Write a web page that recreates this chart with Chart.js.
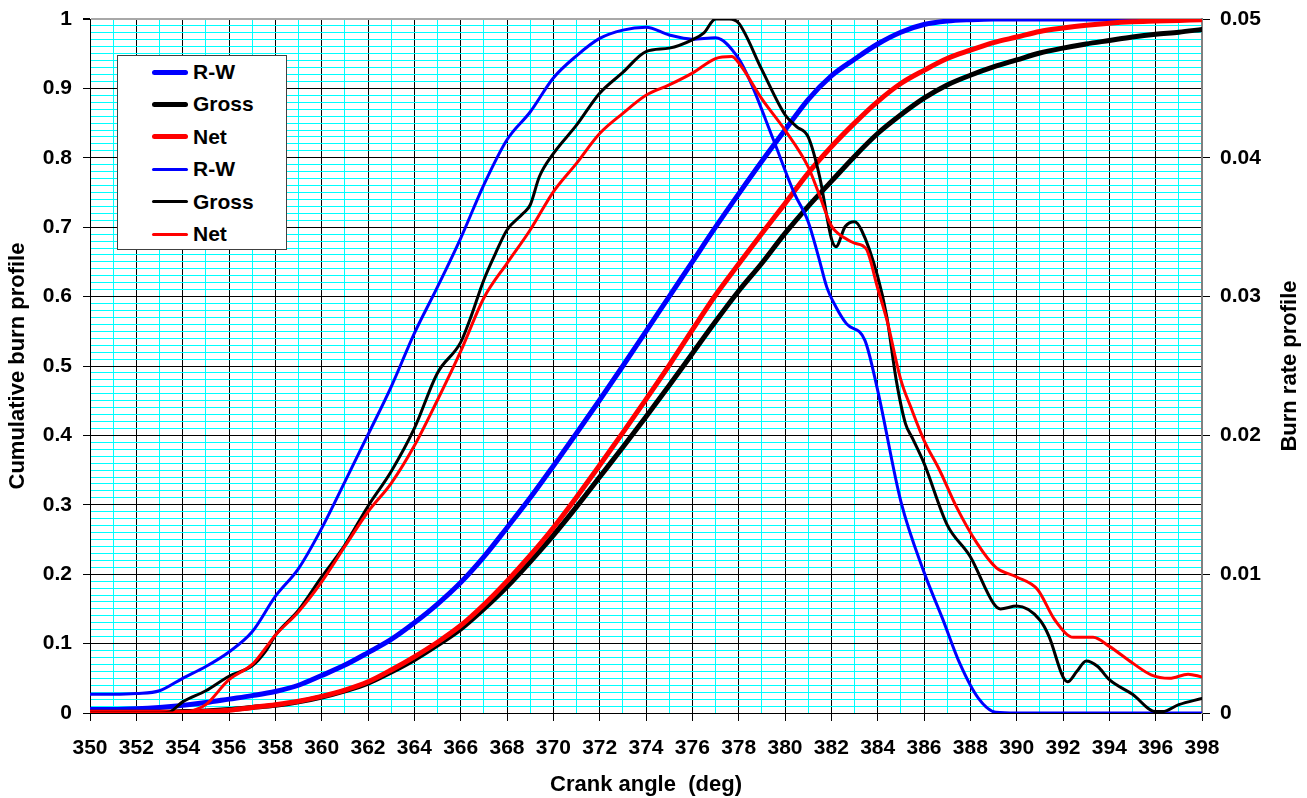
<!DOCTYPE html>
<html>
<head>
<meta charset="utf-8">
<script src="https://cdn.jsdelivr.net/npm/chart.js@4.4.1/dist/chart.umd.min.js"></script>
<style>
  html, body { margin: 0; padding: 0; background: #ffffff; }
  #wrap { position: relative; width: 1307px; height: 798px; }
  #legend {
    position: absolute; left: 117px; top: 55px; width: 170px; height: 195px;
    background: #ffffff; border: 1px solid #404040; box-sizing: border-box;
    font: bold 21px 'Liberation Sans', Arial, sans-serif; color: #000;
  }
  .item { position: absolute; left: 34px; height: 32px; display: flex; align-items: center; white-space: nowrap; }
  .swatch { width: 36px; border-radius: 3px; margin-right: 5px; }
</style>
</head>
<body>
<div id="wrap">
  <canvas id="c" width="1307" height="798"></canvas>
  <div id="legend"></div>
</div>
<script>
// ---------------- DATA ----------------
const xTitle = 'Crank angle  (deg)';
const yLeftTitle = 'Cumulative burn profile';
const yRightTitle = 'Burn rate profile';
const seriesNames = ['R-W', 'Gross', 'Net'];

// cumulative burn profiles (left axis), one value per degree 350..398
const cumAngles = [350,351,352,353,354,355,356,357,358,359,360,361,362,363,364,365,366,367,368,369,370,371,372,373,374,375,376,377,378,379,380,381,382,383,384,385,386,387,388,389,390,391,392,393,394,395,396,397,398];
const rwCum = [0.005,0.005,0.006,0.008,0.011,0.015,0.020,0.025,0.031,0.040,0.054,0.069,0.087,0.106,0.130,0.157,0.188,0.225,0.267,0.310,0.356,0.403,0.451,0.500,0.550,0.600,0.650,0.700,0.748,0.795,0.840,0.884,0.918,0.942,0.964,0.981,0.992,0.997,0.999,1,1,1,1,1,1,1,1,1,1];
const grossCum = [0.001,0.001,0.001,0.001,0.002,0.003,0.005,0.008,0.011,0.016,0.023,0.032,0.043,0.059,0.077,0.098,0.121,0.150,0.182,0.218,0.256,0.297,0.340,0.383,0.427,0.472,0.518,0.564,0.608,0.648,0.691,0.730,0.766,0.802,0.835,0.862,0.886,0.905,0.919,0.931,0.941,0.951,0.958,0.964,0.969,0.974,0.978,0.981,0.985];
const netCum = [0.001,0.001,0.001,0.001,0.001,0.002,0.004,0.008,0.012,0.017,0.024,0.033,0.045,0.062,0.081,0.102,0.126,0.156,0.190,0.227,0.267,0.311,0.357,0.404,0.452,0.501,0.552,0.602,0.647,0.691,0.734,0.778,0.816,0.850,0.881,0.907,0.926,0.943,0.955,0.966,0.974,0.982,0.987,0.991,0.994,0.996,0.997,0.998,0.999];

// burn rate profiles (right axis)
const rwRateAngles = [350,351,352,353,354,355,356,357,358,359,360,361,362,363,364,365,366,367,368,369,370,371,372,373,374,375,376,377,378,378.5,379.5,380.4,381,381.45,381.8,382.2,382.65,383.45,384,385,386,386.8,387.55,388.35,389.1,390,394,398];
const rwRate = [0.00135,0.00135,0.0014,0.0016,0.0025,0.00335,0.0044,0.00585,0.0084,0.0104,0.0133,0.01665,0.02005,0.0235,0.02735,0.0307,0.0342,0.03805,0.0413,0.0433,0.04575,0.04735,0.0486,0.0492,0.0494,0.04885,0.04855,0.04865,0.04715,0.0455,0.0413,0.03745,0.0354,0.03285,0.0307,0.02925,0.02805,0.02685,0.02325,0.01525,0.01015,0.0068,0.00355,0.00105,0.00005,0,0,0];

const grossRateAngles = [350,352,353,353.4,354,355,356,357,357.6,358,359,360,361,362,363,364,365,366,366.4,367,367.5,368,368.7,369,369.4,370,371,372,373,374,375,376,376.5,377,377.6,378,379,380,380.5,381,381.5,382,382.2,382.6,383,383.3,384,384.4,384.8,385.2,385.5,386,387,388,389,389.3,390,391,391.4,392,392.2,392.6,393,393.5,394,395,396,396.3,397,398];
const grossRate = [0,0,0,0.00005,0.0008,0.0016,0.00265,0.0034,0.0045,0.0056,0.0074,0.0098,0.0121,0.0149,0.0174,0.0205,0.0245,0.0267,0.02835,0.0312,0.0331,0.0348,0.036,0.0366,0.03865,0.0403,0.04235,0.04465,0.04615,0.04765,0.0479,0.0485,0.049,0.05,0.05,0.0497,0.04635,0.0431,0.04225,0.0415,0.0386,0.0342,0.0336,0.03505,0.0354,0.0348,0.03145,0.0285,0.024,0.02085,0.0198,0.018,0.01355,0.01125,0.0079,0.0075,0.0077,0.0067,0.0055,0.0026,0.00225,0.003,0.00375,0.00335,0.0024,0.00135,0.0001,0.0001,0.0006,0.00105];

const netRateAngles = [350,354,354.5,355,356,357,357.5,358,359,360,361,362,363,364,365,366,367,368,369,370,371,372,373,374,375,376,377,377.7,378,379,380,381,381.5,382,382.6,383,383.5,384,384.4,385,385.45,386,386.7,387.4,388.3,389.1,390,390.9,391.65,392.45,393.3,394,395,395.8,396.6,397.4,398];
const netRate = [0,0,0.0002,0.0006,0.0024,0.0035,0.0045,0.0056,0.0073,0.00945,0.012,0.0145,0.01655,0.01925,0.02255,0.02605,0.0299,0.0324,0.0348,0.03755,0.0396,0.04175,0.0432,0.0445,0.04525,0.0461,0.04715,0.0473,0.04685,0.04425,0.042,0.03935,0.03725,0.0351,0.0342,0.03385,0.03345,0.0306,0.0283,0.024,0.02195,0.01965,0.0174,0.01485,0.0122,0.0105,0.0098,0.0089,0.0067,0.00545,0.00545,0.0048,0.0036,0.00275,0.0025,0.0028,0.0026];

// axes
const xMin = 350, xMax = 398, xStep = 1;
const yLeftMin = 0, yLeftMax = 1, yLeftStep = 0.01;
const yRightMin = 0, yRightMax = 0.05, yRightStep = 0.01;

// ---------------- CHART ----------------
const FONT = "'Liberation Sans', Arial, Helvetica, sans-serif";
Chart.defaults.font.family = FONT;
Chart.defaults.color = '#000000';

const BLUE = '#0000FF', BLACK = '#000000', RED = '#FF0000', CYAN = '#00FFFF';
const toXY = (xs, ys) => xs.map((x, i) => ({ x: x, y: ys[i] }));
const isMajor = (v, n) => Math.abs(Math.round(v * n) - v * n) < 1e-6;
const noEdgePad = s => { s.paddingTop = 0; s.paddingBottom = 0; s.paddingLeft = 0; s.paddingRight = 0; };

const datasets = [
  { label: seriesNames[0], data: toXY(cumAngles, rwCum), borderColor: BLUE, borderWidth: 5, yAxisID: 'yL', order: 6 },
  { label: seriesNames[1], data: toXY(cumAngles, grossCum), borderColor: BLACK, borderWidth: 5, yAxisID: 'yL', order: 5 },
  { label: seriesNames[2], data: toXY(cumAngles, netCum), borderColor: RED, borderWidth: 5, yAxisID: 'yL', order: 4 },
  { label: seriesNames[0], data: toXY(rwRateAngles, rwRate), borderColor: BLUE, borderWidth: 3, yAxisID: 'yR', order: 3 },
  { label: seriesNames[1], data: toXY(grossRateAngles, grossRate), borderColor: BLACK, borderWidth: 3, yAxisID: 'yR', order: 2 },
  { label: seriesNames[2], data: toXY(netRateAngles, netRate), borderColor: RED, borderWidth: 3, yAxisID: 'yR', order: 1 }
];

const rightTitlePlugin = {
  id: 'rightTitle',
  afterDraw(chart) {
    const { ctx, chartArea } = chart;
    const s = chart.scales.yR;
    ctx.save();
    ctx.font = 'bold 22px ' + FONT;
    ctx.fillStyle = '#000';
    ctx.textAlign = 'center';
    ctx.textBaseline = 'middle';
    ctx.translate(s.right - 17, (chartArea.top + chartArea.bottom) / 2);
    ctx.rotate(-Math.PI / 2);
    ctx.fillText(yRightTitle, 0, 0);
    ctx.restore();
  }
};

const chart = new Chart(document.getElementById('c'), {
  type: 'line',
  data: { datasets: datasets },
  plugins: [rightTitlePlugin],
  options: {
    responsive: false,
    animation: false,
    layout: { padding: { top: 19, left: 0, right: 0, bottom: 0 } },
    elements: {
      point: { radius: 0, hoverRadius: 0 },
      line: { cubicInterpolationMode: 'monotone', borderCapStyle: 'round', borderJoinStyle: 'round', fill: false }
    },
    plugins: { legend: { display: false }, tooltip: { enabled: false } },
    scales: {
      x: {
        type: 'linear', position: 'bottom', min: xMin, max: xMax,
        ticks: {
          stepSize: xStep, autoSkip: false, maxRotation: 0, padding: 15,
          font: { size: 21, weight: 'bold' },
          callback: v => (Math.round(v) % 2 === 0 ? String(Math.round(v)) : '')
        },
        grid: {
          color: c => (Math.round(c.tick.value) % 2 === 0 ? BLACK : CYAN),
          tickColor: c => (Math.round(c.tick.value) % 2 === 0 ? BLACK : 'rgba(0,0,0,0)'),
          lineWidth: 1, tickLength: 8
        },
        border: { color: BLACK, width: 1 },
        title: { display: true, text: xTitle, font: { size: 22, weight: 'bold' }, padding: { top: 0, bottom: 0 } },
        afterFit: s => { s.height = 85; noEdgePad(s); }
      },
      yL: {
        type: 'linear', position: 'left', min: yLeftMin, max: yLeftMax,
        ticks: {
          stepSize: yLeftStep, autoSkip: false, padding: 11,
          font: { size: 21, weight: 'bold' },
          callback: v => (isMajor(v, 10) ? String(+v.toFixed(1)) : '')
        },
        grid: {
          color: c => (isMajor(c.tick.value, 10) ? (c.tick.value > 0.999 ? '#a8a8a8' : BLACK) : CYAN),
          lineWidth: c => (c.tick.value > 0.999 ? 2 : 1),
          tickColor: c => (isMajor(c.tick.value, 10) ? BLACK : 'rgba(0,0,0,0)'),
          tickLength: 7
        },
        border: { color: BLACK, width: 1 },
        title: { display: true, text: yLeftTitle, font: { size: 22, weight: 'bold' }, padding: { top: 5, bottom: 0 } },
        afterFit: s => { s.width = 90; noEdgePad(s); }
      },
      yR: {
        type: 'linear', position: 'right', min: yRightMin, max: yRightMax,
        ticks: {
          stepSize: yRightStep, autoSkip: false, padding: 10,
          font: { size: 21, weight: 'bold' },
          callback: v => String(+v.toFixed(2))
        },
        grid: { drawOnChartArea: false, color: BLACK, tickColor: BLACK, tickLength: 8, lineWidth: 1 },
        border: { color: '#808080', width: 2 },
        afterFit: s => { s.width = 105; noEdgePad(s); }
      }
    }
  }
});

// legend built from the chart's datasets
const legend = document.getElementById('legend');
chart.data.datasets.forEach((d, i) => {
  const item = document.createElement('div');
  item.className = 'item';
  item.style.top = (i * 32.4) + 'px';
  const sw = document.createElement('div');
  sw.className = 'swatch';
  sw.style.height = d.borderWidth + 'px';
  sw.style.background = d.borderColor;
  const tx = document.createElement('span');
  tx.textContent = d.label;
  item.appendChild(sw);
  item.appendChild(tx);
  legend.appendChild(item);
});
</script>
</body>
</html>
